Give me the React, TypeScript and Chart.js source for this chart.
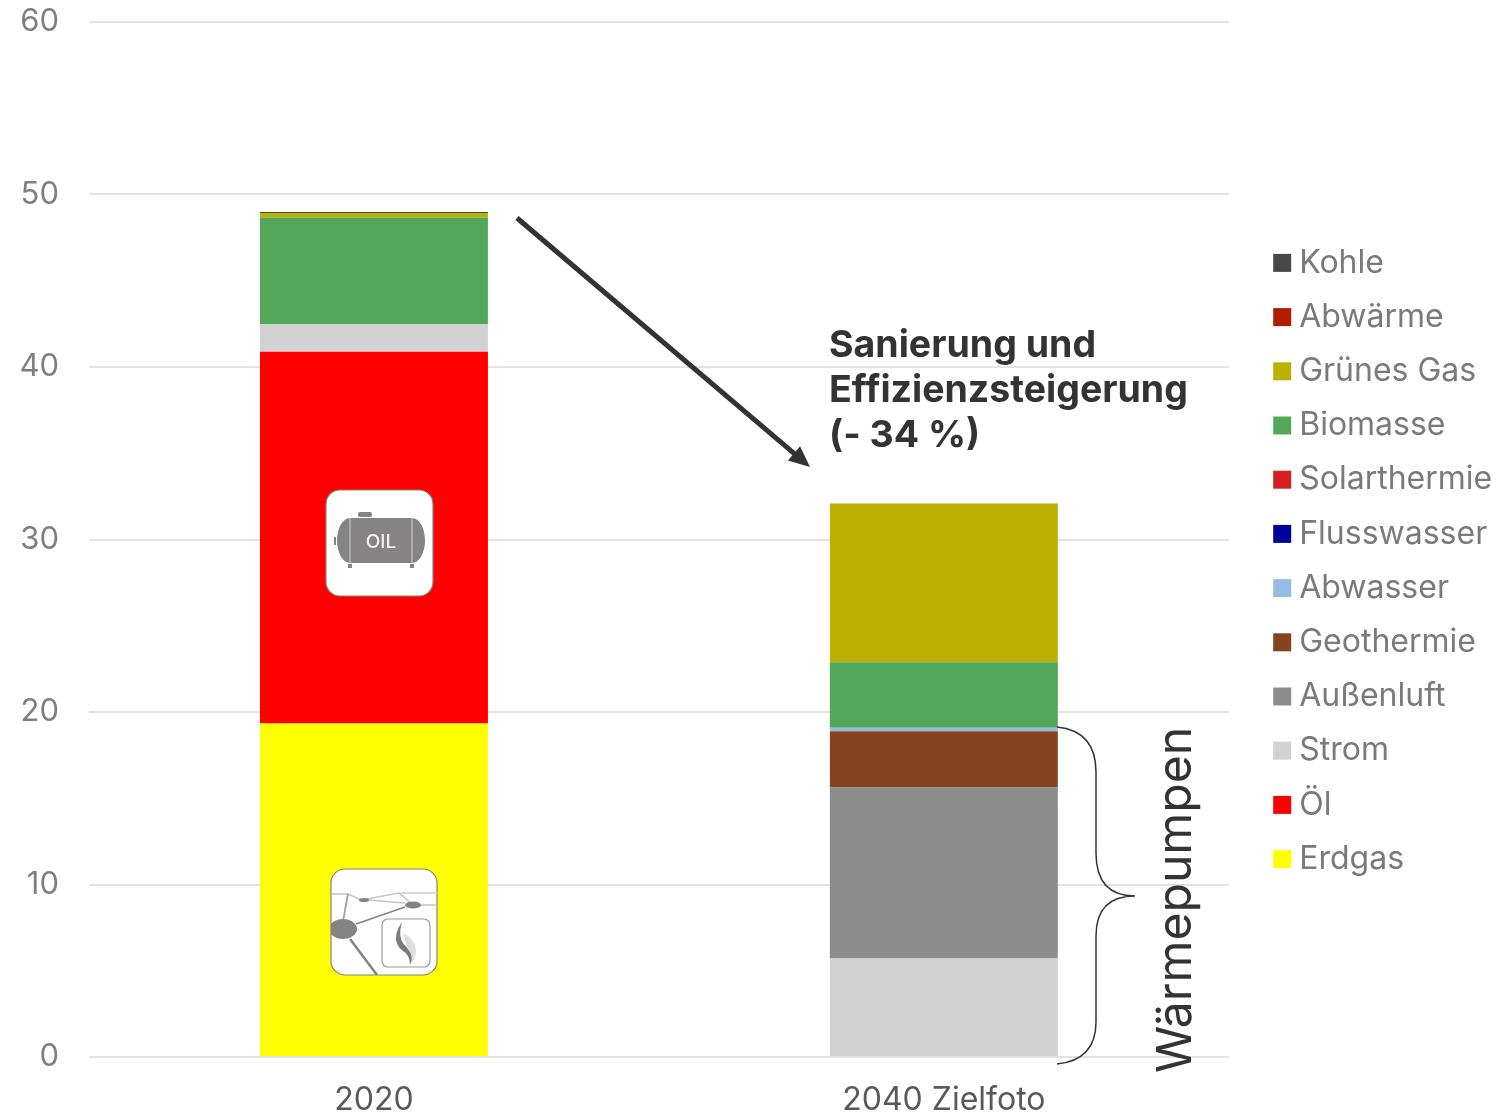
import React, { useEffect, useRef } from "react";
import { Chart, registerables } from "chart.js";

Chart.register(...registerables);

const categories = ["2020", "2040 Zielfoto"];
const carriers = [
  "Erdgas", "Öl", "Strom", "Außenluft", "Geothermie", "Abwasser",
  "Flusswasser", "Solarthermie", "Biomasse", "Grünes Gas", "Abwärme", "Kohle",
];
const colors = [
  "#ffff00", "#ff0000", "#d2d2d2", "#8c8c8c", "#864321", "#94bde3",
  "#000098", "#d42020", "#52a858", "#bdb000", "#b01c00", "#484848",
];
const values2020 = [19.34, 21.55, 1.6, 0, 0, 0, 0, 0, 6.17, 0.27, 0, 0.06];
const values2040 = [0, 0, 5.71, 9.92, 3.25, 0.2, 0, 0, 3.8, 9.2, 0, 0];
const arrowLabel = ["Sanierung und", "Effizienzsteigerung", "(- 34 %)"];
const braceLabel = "Wärmepumpen";

const FONT = "Inter, 'Noto Sans', sans-serif";
const ICON_GREY = "#858383";

function roundedBox(ctx: CanvasRenderingContext2D, x: number, y: number, w: number, h: number) {
  ctx.beginPath();
  ctx.roundRect(x, y, w, h, 14);
  ctx.fillStyle = "#ffffff";
  ctx.fill();
  ctx.strokeStyle = ICON_GREY;
  ctx.lineWidth = 1.2;
  ctx.stroke();
}

// Oil tank pictogram, drawn around the top-left corner of its white tile.
function drawOilIcon(ctx: CanvasRenderingContext2D, x: number, y: number) {
  ctx.save();
  roundedBox(ctx, x, y, 107, 106);
  ctx.translate(x, y);
  ctx.fillStyle = ICON_GREY;
  ctx.beginPath();
  ctx.ellipse(24, 50.5, 13, 22.5, 0, Math.PI / 2, Math.PI * 1.5);
  ctx.lineTo(86, 28);
  ctx.ellipse(86, 50.5, 13, 22.5, 0, -Math.PI / 2, Math.PI / 2);
  ctx.closePath();
  ctx.fill();
  ctx.fillRect(8, 47, 2, 8);
  ctx.beginPath();
  ctx.roundRect(32, 22, 14, 5, 2);
  ctx.fill();
  ctx.fillRect(22, 74, 4, 4);
  ctx.fillRect(84, 74, 4, 4);
  ctx.strokeStyle = "#d4d2d2";
  ctx.lineWidth = 1;
  ctx.beginPath();
  ctx.moveTo(24, 28);
  ctx.lineTo(24, 73);
  ctx.moveTo(86, 28);
  ctx.lineTo(86, 73);
  ctx.stroke();
  ctx.fillStyle = "#f2f2f2";
  ctx.font = `500 19px ${FONT}`;
  ctx.textAlign = "center";
  ctx.textBaseline = "middle";
  ctx.fillText("OIL", 55, 52);
  ctx.restore();
}

// Gas network pictogram: pipeline nodes with a flame badge.
function drawGasIcon(ctx: CanvasRenderingContext2D, x: number, y: number) {
  ctx.save();
  roundedBox(ctx, x, y, 106, 106);
  ctx.beginPath();
  ctx.roundRect(x, y, 106, 106, 14);
  ctx.clip();
  ctx.translate(x, y);
  const pipe = (pts: number[], color: string, width: number) => {
    ctx.strokeStyle = color;
    ctx.lineWidth = width;
    ctx.beginPath();
    ctx.moveTo(pts[0], pts[1]);
    for (let i = 2; i < pts.length; i += 2) ctx.lineTo(pts[i], pts[i + 1]);
    ctx.stroke();
  };
  pipe([0, 25, 17, 25, 30, 31, 68, 24, 82, 36, 106, 36], "#c4c4c4", 1.6);
  pipe([68, 24, 106, 24], "#d8d8d8", 2);
  pipe([37, 31, 74, 34], "#c4c4c4", 1.6);
  pipe([17, 25, 12, 52], "#a0a0a0", 1.8);
  pipe([25, 55, 74, 38], ICON_GREY, 1.6);
  pipe([19, 70, 46, 106], ICON_GREY, 2.5);
  ctx.fillStyle = ICON_GREY;
  const node = (cx: number, cy: number, rx: number, ry: number) => {
    ctx.beginPath();
    ctx.ellipse(cx, cy, rx, ry, 0, 0, Math.PI * 2);
    ctx.fill();
  };
  node(12, 60, 14, 10);
  node(33, 31, 5, 2);
  node(82, 36, 8, 3.5);
  ctx.beginPath();
  ctx.roundRect(51, 50, 48, 48, 6);
  ctx.fillStyle = "#ffffff";
  ctx.fill();
  ctx.strokeStyle = "#9a9a9a";
  ctx.lineWidth = 1.2;
  ctx.stroke();
  ctx.fillStyle = "#dedede";
  ctx.beginPath();
  ctx.moveTo(72, 64);
  ctx.bezierCurveTo(84, 70, 90, 82, 80, 95);
  ctx.bezierCurveTo(82, 84, 74, 76, 72, 64);
  ctx.fill();
  ctx.fillStyle = "#7c7a7a";
  ctx.beginPath();
  ctx.moveTo(71, 53);
  ctx.bezierCurveTo(62, 66, 64, 76, 72, 82);
  ctx.bezierCurveTo(77, 85, 79, 90, 79, 96);
  ctx.bezierCurveTo(84, 86, 77, 80, 72, 74);
  ctx.bezierCurveTo(68, 68, 69, 60, 71, 53);
  ctx.fill();
  ctx.restore();
}

const annotations = {
  id: "annotations",
  afterDatasetsDraw(chart: Chart) {
    const ctx = chart.ctx;
    ctx.save();

    drawOilIcon(ctx, 326, 490);
    drawGasIcon(ctx, 331, 869);

    // Arrow leading from the 2020 stack down to the 2040 stack
    const [x1, y1, x2, y2] = [517, 218, 810, 467];
    const angle = Math.atan2(y2 - y1, x2 - x1);
    ctx.strokeStyle = "#333333";
    ctx.fillStyle = "#333333";
    ctx.lineWidth = 5;
    ctx.beginPath();
    ctx.moveTo(x1, y1);
    ctx.lineTo(x2 - 14 * Math.cos(angle), y2 - 14 * Math.sin(angle));
    ctx.stroke();
    ctx.beginPath();
    ctx.moveTo(x2, y2);
    ctx.lineTo(x2 - 23 * Math.cos(angle - 0.42), y2 - 23 * Math.sin(angle - 0.42));
    ctx.lineTo(x2 - 23 * Math.cos(angle + 0.42), y2 - 23 * Math.sin(angle + 0.42));
    ctx.closePath();
    ctx.fill();

    ctx.font = `700 37.5px ${FONT}`;
    ctx.textAlign = "left";
    ctx.textBaseline = "middle";
    arrowLabel.forEach((line, i) => ctx.fillText(line, 829, 346 + i * 45));

    // Curly brace spanning the heat pump segments
    ctx.strokeStyle = "#333333";
    ctx.lineWidth = 1.5;
    ctx.beginPath();
    ctx.moveTo(1057, 727);
    ctx.quadraticCurveTo(1096, 731, 1096, 772);
    ctx.lineTo(1096, 853);
    ctx.quadraticCurveTo(1096, 896, 1135, 896);
    ctx.quadraticCurveTo(1096, 896, 1096, 936);
    ctx.lineTo(1096, 1022);
    ctx.quadraticCurveTo(1096, 1060, 1057, 1064);
    ctx.stroke();

    ctx.translate(1177, 900);
    ctx.rotate(-Math.PI / 2);
    ctx.fillStyle = "#333333";
    ctx.font = `400 48px ${FONT}`;
    ctx.textAlign = "center";
    ctx.textBaseline = "middle";
    ctx.fillText(braceLabel, 0, 0);
    ctx.restore();
  },
};

// Places the legend column independently of the plot area's right edge.
const legendPlacement = {
  id: "legendPlacement",
  afterLayout(chart: any) {
    const legend = chart.legend;
    const height = legend.bottom - legend.top;
    legend.left = 1259;
    legend.right = 1496;
    legend.top = 15;
    legend.bottom = 15 + height;
  },
};

export default function App() {
  const ref = useRef<HTMLCanvasElement>(null);
  useEffect(() => {
    const chart = new Chart(ref.current!, {
      type: "bar",
      data: {
        labels: categories,
        datasets: carriers.map((label, i) => ({
          label,
          data: [values2020[i], values2040[i]],
          backgroundColor: colors[i],
          borderWidth: 0,
          barPercentage: 0.4,
          categoryPercentage: 1,
        })),
      },
      options: {
        responsive: false,
        animation: false,
        layout: { padding: { top: 22, right: 24, bottom: 0, left: 0 } },
        plugins: {
          title: { display: false },
          tooltip: { enabled: false },
          legend: {
            position: "right",
            reverse: true,
            align: "center",
            labels: {
              boxWidth: 2,
              boxHeight: 2,
              padding: 22.2,
              color: "#7a7a7a",
              font: { family: FONT, size: 32 },
              // A thick outline around a small box keeps the swatch close to its text.
              generateLabels(c: Chart) {
                return Chart.defaults.plugins.legend.labels.generateLabels(c).map((item: any) => ({
                  ...item,
                  lineWidth: 16,
                  strokeStyle: item.fillStyle,
                }));
              },
            },
          },
        },
        scales: {
          x: {
            stacked: true,
            grid: { display: false },
            border: { display: false },
            ticks: { color: "#595959", font: { family: FONT, size: 32 }, padding: 16, maxRotation: 0 },
            afterFit(scale: any) {
              scale.height = 57;
            },
          },
          y: {
            stacked: true,
            min: 0,
            max: 60,
            grid: { color: "#e2e2e2", lineWidth: 2, drawTicks: false },
            border: { display: false },
            ticks: { stepSize: 10, color: "#7f7f7f", font: { family: FONT, size: 31 }, padding: 30 },
            afterFit(scale: any) {
              scale.width = 89;
              scale.paddingTop = 0;
              scale.paddingBottom = 0;
            },
          },
        },
      },
      plugins: [annotations, legendPlacement],
    });
    return () => chart.destroy();
  }, []);
  return (
    <div style={{ position: "absolute", left: 0, top: 0, width: 1496, height: 1114 }}>
      <canvas ref={ref} width={1496} height={1114} style={{ display: "block" }} />
    </div>
  );
}
